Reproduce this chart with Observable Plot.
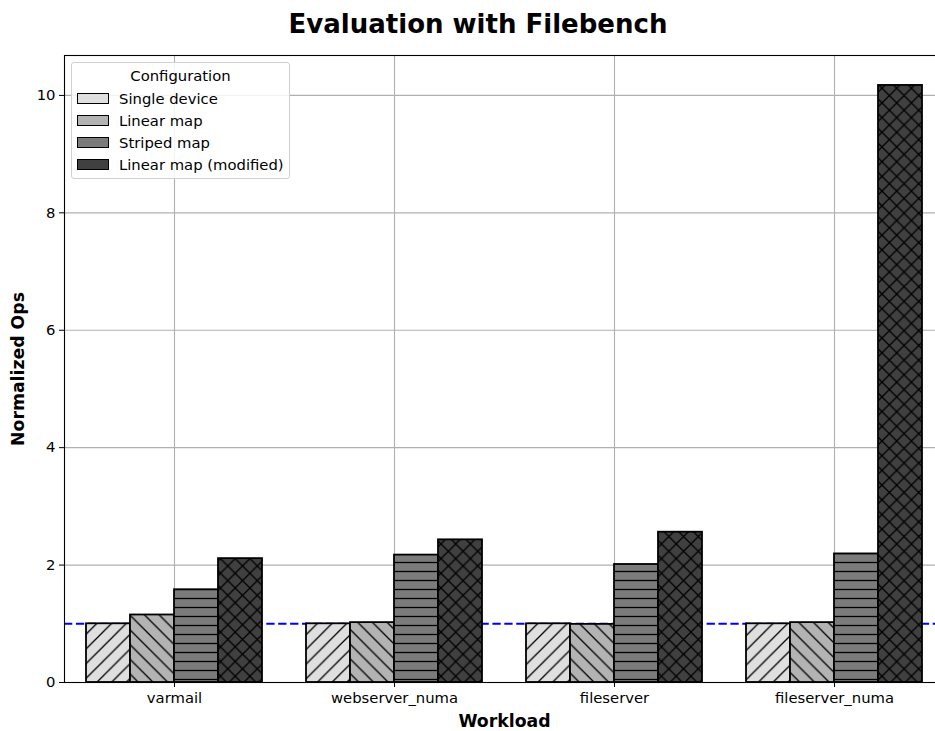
<!DOCTYPE html>
<html>
<head>
<meta charset="utf-8">
<script src="https://cdn.jsdelivr.net/npm/d3@7"></script>
<script src="https://cdn.jsdelivr.net/npm/@observablehq/plot@0.6"></script>
<style>
  html, body { margin: 0; padding: 0; background: white; }
  #wrap { position: relative; width: 935px; height: 731px; overflow: hidden; font-family: "DejaVu Sans", sans-serif; }
  #legend { position: absolute; left: 71px; top: 62px; width: 219px; height: 117px; box-sizing: border-box;
            border: 1px solid #d0d0d0; border-radius: 3px; background: rgba(255,255,255,0.85); font-size: 14.8px; color: #000; }
  #legend .title { position: absolute; left: 0; width: 100%; text-align: center; top: 2px; line-height: 22px; }
  #legend .row { position: absolute; left: 0; height: 22px; line-height: 22px; width: 100%; }
  #legend .patch { position: absolute; left: 5px; top: 5px; width: 32px; height: 11px; box-sizing: border-box; border: 1.5px solid #000; }
  #legend .label { position: absolute; left: 47px; top: 0; white-space: nowrap; }
</style>
</head>
<body>
<div id="wrap"></div>
<script>
// ---- data ----
const workloads = ["varmail", "webserver_numa", "fileserver", "fileserver_numa"];
const configs = ["Single device", "Linear map", "Striped map", "Linear map (modified)"];
const singleDevice = [1.00, 1.00, 1.00, 1.00];
const linearMap = [1.15, 1.02, 0.99, 1.02];
const stripedMap = [1.58, 2.17, 2.01, 2.19];
const linearMapModified = [2.11, 2.43, 2.56, 10.17];
const yTicks = [0, 2, 4, 6, 8, 10];
const baseline = [1];
const colors = ["#dfdfdf", "#b3b3b3", "#7b7b7b", "#404040"];
const hatches = ["/", "\\", "-", "x"];

const series = [singleDevice, linearMap, stripedMap, linearMapModified];
const rows = [];
series.forEach((vals, j) => vals.forEach((v, i) => rows.push({i, j, workload: workloads[i], config: configs[j], value: v})));

const barW = 0.2;
const x1 = d => d.i + (d.j - 1.5) * barW - barW / 2;
const x2 = d => d.i + (d.j - 1.5) * barW + barW / 2;

const barMarks = configs.map((c, j) =>
  Plot.rectY(rows.filter(d => d.j === j), {
    x1, x2, y1: 0, y2: "value",
    fill: `url(#hatch${j})`, stroke: "black", strokeWidth: 1.8
  })
);

const plot = Plot.plot({
  width: 935,
  height: 731,
  marginTop: 55,
  marginBottom: 49,
  marginLeft: 64,
  marginRight: -9,
  style: {fontFamily: "DejaVu Sans, sans-serif", fontSize: "14.8px", color: "black", background: "white", overflow: "visible"},
  x: {type: "linear", domain: [-0.5, workloads.length - 0.5]},
  y: {domain: [0, 10.68]},
  marks: [
    Plot.gridY(yTicks, {stroke: "#b0b0b0", strokeOpacity: 1, strokeWidth: 1.1}),
    Plot.gridX(d3.range(workloads.length), {stroke: "#b0b0b0", strokeOpacity: 1, strokeWidth: 1.1}),
    Plot.ruleY(baseline, {stroke: "#0000ff", strokeWidth: 2, strokeDasharray: "8.3,3.6"}),
    ...barMarks,
    Plot.axisX(d3.range(workloads.length), {tickFormat: i => workloads[i], tickSize: 5, tickPadding: 5, label: null, fontSize: 14.8}),
    Plot.axisY(yTicks, {tickFormat: d => String(d), tickSize: 5, tickPadding: 4, label: null, fontSize: 14.8}),
    Plot.frame({stroke: "black", strokeWidth: 1.1}),
    Plot.text(["Normalized Ops"], {frameAnchor: "left", dx: -46, rotate: -90, textAnchor: "middle", lineAnchor: "middle", fontSize: 17.3, fontWeight: "bold"}),
    Plot.text(["Workload"], {frameAnchor: "bottom", dy: 39, lineAnchor: "middle", fontSize: 17.3, fontWeight: "bold"})
  ]
});

// hatch patterns
function patternDef(j) {
  const h = hatches[j], c = colors[j];
  const lw = 1.3;
  if (h === "-") {
    const s = 9;
    return `<pattern id="hatch${j}" patternUnits="userSpaceOnUse" width="${s}" height="${s}">
      <rect width="${s}" height="${s}" fill="${c}"/>
      <path d="M0,${s/2}H${s}" stroke="black" stroke-width="${lw}"/></pattern>`;
  }
  const s = 14.7;
  const fwd = `M0,${s}L${s},0M${-s/2},${s/2}L${s/2},${-s/2}M${s/2},${s*1.5}L${s*1.5},${s/2}`;
  const back = `M0,0L${s},${s}M${-s/2},${s/2}L${s/2},${s*1.5}M${s/2},${-s/2}L${s*1.5},${s/2}`;
  const d = h === "/" ? fwd : h === "\\" ? back : fwd + back;
  return `<pattern id="hatch${j}" patternUnits="userSpaceOnUse" width="${s}" height="${s}">
    <rect width="${s}" height="${s}" fill="${c}"/>
    <path d="${d}" stroke="black" stroke-width="${lw}" fill="none"/></pattern>`;
}
plot.insertAdjacentHTML("afterbegin", `<defs>${configs.map((c, j) => patternDef(j)).join("")}</defs>`);

// title
d3.select(plot).append("text")
  .attr("x", 478).attr("y", 33)
  .attr("text-anchor", "middle")
  .attr("font-family", "DejaVu Sans, sans-serif")
  .attr("font-size", 26).attr("font-weight", "bold")
  .attr("fill", "black")
  .text("Evaluation with Filebench");

const wrap = document.getElementById("wrap");
wrap.appendChild(plot);

// legend
const leg = document.createElement("div");
leg.id = "legend";
leg.innerHTML = `<div class="title">Configuration</div>` +
  configs.map((c, j) => `<div class="row" style="top:${24.7 + j * 22.2}px"><div class="patch" style="background:${colors[j]}"></div><div class="label">${c}</div></div>`).join("");
wrap.appendChild(leg);
</script>
</body>
</html>
